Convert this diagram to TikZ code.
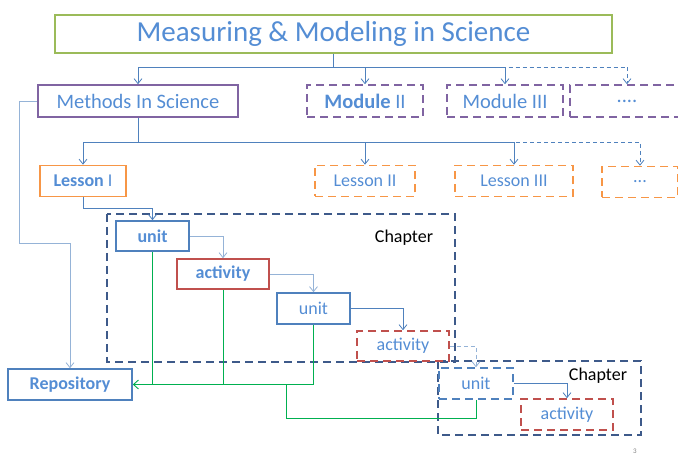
\documentclass[tikz,border=0pt]{standalone}
\usepackage{fontspec}
\setmainfont{Carlito}
\usetikzlibrary{arrows.meta}

\definecolor{txtblue}{RGB}{84,141,212}
\definecolor{boxgreen}{RGB}{155,187,89}
\definecolor{boxpurple}{RGB}{128,100,162}
\definecolor{boxorange}{RGB}{247,150,70}
\definecolor{boxred}{RGB}{192,80,77}
\definecolor{boxblue}{RGB}{79,129,189}
\definecolor{lightlink}{RGB}{149,179,215}
\definecolor{chapcol}{RGB}{62,90,138}
\definecolor{repgreen}{RGB}{0,176,80}

\tikzset{
  box/.style={draw,line width=1.6pt,text=txtblue,inner sep=0pt,font=\fontsize{18}{21}\selectfont},
  dbox/.style={box,dash pattern=on 8pt off 5pt},
  bigbox/.style={font=\fontsize{20.5}{24}\selectfont},
  link/.style={draw=boxblue,line width=0.8pt,-{Straight Barb[length=5pt,width=8pt]}},
  dlink/.style={link,dash pattern=on 4pt off 3pt},
  soft/.style={link,draw=lightlink},
  chapter/.style={draw=chapcol,line width=1.8pt,dash pattern=on 8pt off 5pt},
  repo/.style={draw=repgreen,line width=0.9pt},
}

\begin{document}
\begin{tikzpicture}[x=1pt,y=-1pt]
    \useasboundingbox (0,0) rectangle (678,457);
    % course and modules
    \node[box,draw=boxgreen,minimum width=557,minimum height=38,font=\fontsize{29}{34}\selectfont] (title) at (333.5,34) {Measuring \& Modeling in Science};
    \node[box,bigbox,draw=boxpurple,minimum width=200,minimum height=32] (methods) at (138,101) {Methods In Science};
    \node[dbox,bigbox,draw=boxpurple,minimum width=116,minimum height=32] (mod2) at (365,101) {\textbf{Module} II};
    \node[dbox,bigbox,draw=boxpurple,minimum width=116,minimum height=32] (mod3) at (505,101) {Module III};
    \node[dbox,bigbox,draw=boxpurple,minimum width=114,minimum height=32] (moddots) at (627,101) {....};
    % lessons
    \node[box,draw=boxorange,minimum width=86,minimum height=31] (lesson1) at (83,181) {\textbf{Lesson} I};
    \node[dbox,draw=boxorange,minimum width=100,minimum height=31] (lesson2) at (365,181) {Lesson II};
    \node[dbox,draw=boxorange,minimum width=118,minimum height=31] (lesson3) at (514,181) {Lesson III};
    \node[dbox,draw=boxorange,minimum width=76,minimum height=31] (lessondots) at (640,182) {...};
    % chapters
    \draw[chapter] (107,214) rectangle (455,362);
    \node[font=\fontsize{18}{21}\selectfont] (chap1) at (404,238) {Chapter};
    \draw[chapter] (438,361) rectangle (641,435);
    \node[font=\fontsize{18}{21}\selectfont] (chap2) at (598,376) {Chapter};
    % units and activities
    \node[box,draw=boxblue,minimum width=73,minimum height=30] (unit1) at (152.5,236) {\textbf{unit}};
    \node[box,draw=boxred,minimum width=92,minimum height=30] (act1) at (223,274) {\textbf{activity}};
    \node[box,draw=boxblue,minimum width=73,minimum height=31] (unit2) at (313.5,308.5) {unit};
    \node[dbox,draw=boxred,minimum width=92,minimum height=30] (act2) at (403,346) {activity};
    \node[dbox,draw=boxblue,minimum width=74,minimum height=31] (unit3) at (476,383.5) {unit};
    \node[dbox,draw=boxred,minimum width=92,minimum height=31] (act3) at (567,414.5) {activity};
    \node[box,draw=boxblue,minimum width=124,minimum height=31] (repository) at (70,384.5) {\textbf{Repository}};
    \node[text=gray,font=\fontsize{7}{8}\selectfont] (page) at (635,451) {3};

    \coordinate (t1) at (333.5,67);
    \coordinate (m1) at (138,142);
    \coordinate (r1) at (19,243);
    \coordinate (g1) at (286,384.5);

    \draw[link] (title.south) -- (t1) -| (methods.north);
    \draw[link] (t1) -| (mod2.north);
    \draw[link] (t1) -| (mod3.north);
    \draw[dlink] (t1) -| (moddots.north);

    \draw[link] (methods.south) -- (m1) -| (lesson1.north);
    \draw[link] (m1) -| (lesson2.north);
    \draw[link] (m1) -| (lesson3.north);
    \draw[dlink] (m1) -| (lessondots.north);

    \draw[soft] (methods.west) -| (r1) -| (repository.north);
    \draw[link] (lesson1.south) -- ++(0,11.5) -| (unit1.north);
    \draw[soft] (unit1.east) -| (act1.north);
    \draw[soft] (act1.east) -| (unit2.north);
    \draw[link] (unit2.east) -| (act2.north);
    \draw[dlink,draw=lightlink] (act2.east) -| (unit3.north);
    \draw[link] (unit3.east) -| (act3.north);

    % links down to the repository
    \draw[repo] (unit1.south) -- (unit1.south |- repository.east);
    \draw[repo] (act1.south) -- (act1.south |- repository.east);
    \draw[repo,-{Straight Barb[length=5pt,width=9pt]}] (unit2.south) |- (repository.east);
    \draw[repo] (unit3.south) -- ++(0,19) -| (g1);
\end{tikzpicture}
\end{document}
